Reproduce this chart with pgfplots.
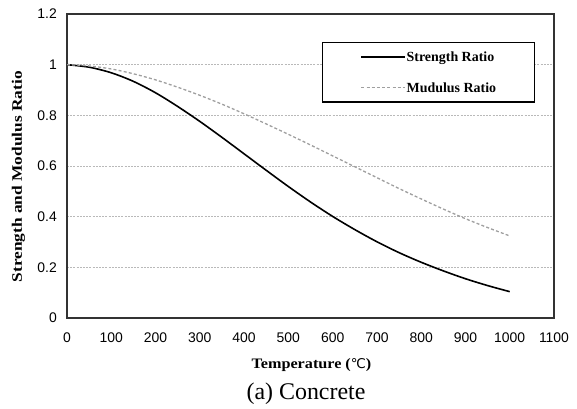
\documentclass[border=0pt]{standalone}
\usepackage{fontspec}
\setmainfont{Liberation Serif}
\newfontfamily\arialfont{Liberation Sans}
\newfontfamily\ylabfont[FakeStretch=1.2]{Liberation Serif}
\newfontfamily\xlabfont[FakeStretch=1.12]{Liberation Serif}
\newfontfamily\symfont{DejaVu Sans}
\usepackage{pgfplots}
\pgfplotsset{compat=1.18}
\begin{document}
\begin{tikzpicture}
\path[use as bounding box] (0,0) rectangle (577bp,409bp);
\begin{axis}[
  at={(67bp,91bp)}, anchor=south west,
  scale only axis, width=487bp, height=304bp,
  xmin=0, xmax=1100, ymin=0, ymax=1.2,
  xtick={0,100,200,300,400,500,600,700,800,900,1000,1100},
  xticklabels={0,100,200,300,400,500,600,700,800,900,1000,1100},
  ytick={0,0.2,0.4,0.6,0.8,1,1.2},
  yticklabels={0,0.2,0.4,0.6,0.8,1,1.2},
  major tick length=0pt,
  /pgf/number format/assume math mode=true,
  ticklabel style={font=\arialfont\fontsize{14}{14}\selectfont, inner sep=0pt},
  xticklabel style={anchor=north, yshift=-15bp},
  yticklabel style={anchor=east, xshift=-10bp},
  ymajorgrids,
  grid style={gray!55, dash pattern=on 2bp off 1.2bp, line width=0.6bp},
  axis line style={gray!40!black, line width=1.1bp},
  xlabel={\xlabfont\bfseries\fontsize{14.5}{14.5}\selectfont Temperature ({\symfont\mdseries\fontsize{13.5}{13.5}\selectfont ℃})},
  ylabel={\ylabfont\bfseries\fontsize{14.5}{14.5}\selectfont Strength and Modulus Ratio},
  xlabel style={at={(axis description cs:0.502,-0.155)}, anchor=center, inner sep=0pt},
  ylabel style={at={(axis description cs:-0.0996,0.465)}, anchor=center, inner sep=0pt},
  legend cell align=left,
  legend image code/.code={\draw[#1] (0bp,0bp) -- (44bp,0bp);},
  legend style={at={(axis description cs:0.523,0.909)}, anchor=north west,
    draw=black, line width=1.6bp, fill=white,
    inner xsep=38bp, inner ysep=8.5bp, row sep=19bp,
    font=\bfseries\fontsize{14}{14}\selectfont,
    nodes={inner xsep=0.5bp, inner ysep=1bp, text depth=0pt}},
]
\addplot[black, line width=1.6bp, smooth] coordinates {
(0,1.000) (50,0.990) (100,0.968) (150,0.934) (200,0.889) (250,0.835)
(300,0.776) (350,0.713) (400,0.648) (450,0.583) (500,0.519) (550,0.458)
(600,0.401) (650,0.349) (700,0.301) (750,0.258) (800,0.220) (850,0.186)
(900,0.155) (950,0.128) (1000,0.104)};
\addlegendentry{Strength Ratio}
\addplot[gray!75, line width=1.3bp, dash pattern=on 3bp off 2.2bp, smooth] coordinates {
(0,1.000) (50,0.995) (100,0.983) (150,0.964) (200,0.940) (250,0.911)
(300,0.879) (350,0.844) (400,0.806) (450,0.766) (500,0.725) (550,0.683)
(600,0.640) (650,0.597) (700,0.554) (750,0.511) (800,0.470) (850,0.430)
(900,0.392) (950,0.357) (1000,0.324)};
\addlegendentry{Mudulus Ratio}
\end{axis}
\node[inner sep=0pt, font=\fontsize{24}{24}\selectfont] at (306bp,15bp) {(a) Concrete};
\end{tikzpicture}
\end{document}
